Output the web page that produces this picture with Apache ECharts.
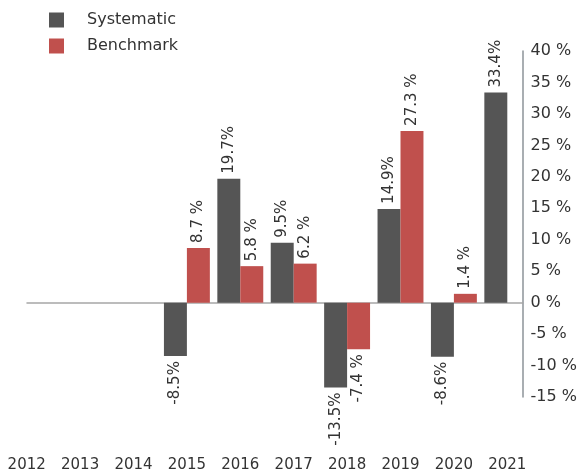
<!DOCTYPE html>
<html>
<head>
<meta charset="utf-8">
<script src="https://cdn.jsdelivr.net/npm/echarts@6/dist/echarts.min.js"></script>
<style>html,body{margin:0;padding:0;background:#fff;}#c{width:580px;height:473px;}</style>
</head>
<body>
<div id="c"></div>
<script>
const categories = ['2012','2013','2014','2015','2016','2017','2018','2019','2020','2021'];
const systematic = [null, null, null, -8.5, 19.7, 9.5, -13.5, 14.9, -8.6, 33.4];
const benchmark  = [null, null, null, 8.7, 5.8, 6.2, -7.4, 27.3, 1.4, null];
const yTicks = [-15, -10, -5, 0, 5, 10, 15, 20, 25, 30, 35, 40];

const FONT = 'DejaVu Sans';
function withLabels(arr) {
  return arr.map(v => {
    if (v === null) return null;
    const neg = v < 0;
    return {
      value: v,
      label: {
        position: neg ? 'bottom' : 'top',
        align: neg ? 'right' : 'left'
      }
    };
  });
}

const chart = echarts.init(document.getElementById('c'));
chart.setOption({
  animation: false,
  textStyle: { fontFamily: FONT },
  legend: {
    orient: 'vertical',
    left: 44, top: 7,
    itemWidth: 15, itemHeight: 15, itemGap: 10,
    icon: 'rect',
    textStyle: { fontSize: 16, color: '#333', fontFamily: FONT, padding: [0, 0, 0, 18] },
    data: ['Systematic', 'Benchmark']
  },
  grid: [
    { left: 0, right: 46, top: 51, bottom: 76 },
    { left: 27, right: 55, top: 51, bottom: 76 }
  ],
  xAxis: [
    {
      type: 'category', gridIndex: 0, data: categories,
      axisLine: { show: false }, axisTick: { show: false },
      axisLabel: { margin: 61, fontSize: 15, color: '#333', fontFamily: FONT }
    },
    {
      type: 'value', gridIndex: 1, min: 0, max: 1,
      axisLine: { show: true, onZero: true, lineStyle: { color: '#a6a6a6', width: 1.5 } },
      axisTick: { show: false }, axisLabel: { show: false }, splitLine: { show: false }
    }
  ],
  yAxis: [
    {
      type: 'value', gridIndex: 0, min: yTicks[0], max: yTicks[yTicks.length - 1], interval: 5,
      show: false, splitLine: { show: false }
    },
    {
      type: 'value', gridIndex: 1, position: 'right',
      min: yTicks[0], max: yTicks[yTicks.length - 1], interval: 5,
      axisLine: { show: true, onZero: false, lineStyle: { color: '#8c9399', width: 1.5 } },
      axisTick: { show: false },
      splitLine: { show: false },
      axisLabel: { margin: 8, fontSize: 16, color: '#333', fontFamily: FONT, padding: [4, 0, 0, 0], formatter: v => v + ' %' }
    }
  ],
  series: [
    {
      name: 'Systematic', type: 'bar', xAxisIndex: 0, yAxisIndex: 0,
      barGap: '0%', barCategoryGap: '14%',
      itemStyle: { color: '#555555' },
      label: {
        show: true, rotate: 90, verticalAlign: 'middle', distance: 5,
        fontSize: 15, color: '#333', fontFamily: FONT,
        formatter: p => p.value.toFixed(1) + '%'
      },
      data: withLabels(systematic), z: 3
    },
    {
      name: 'Benchmark', type: 'bar', xAxisIndex: 0, yAxisIndex: 0,
      barGap: '0%', barCategoryGap: '14%',
      itemStyle: { color: '#c0504d' },
      label: {
        show: true, rotate: 90, verticalAlign: 'middle', distance: 5,
        fontSize: 15, color: '#333', fontFamily: FONT,
        formatter: p => p.value.toFixed(1) + ' %'
      },
      data: withLabels(benchmark), z: 3
    }
  ]
});
</script>
</body>
</html>
